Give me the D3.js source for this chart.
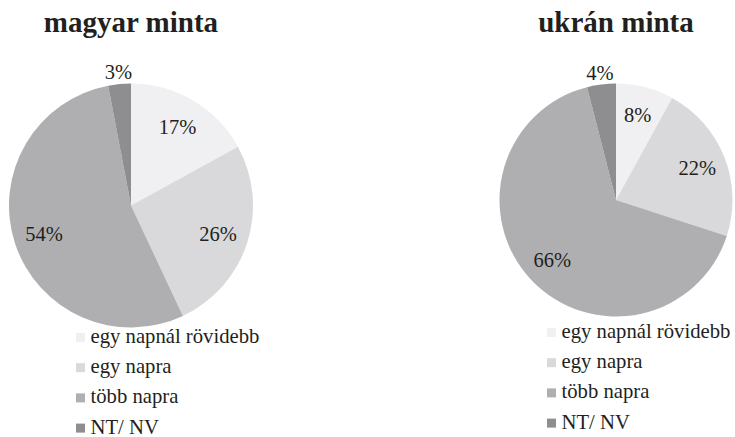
<!DOCTYPE html>
<html>
<head>
<meta charset="utf-8">
<script src="https://cdn.jsdelivr.net/npm/d3@7"></script>
<style>
  body { margin: 0; background: #fff; }
  text { font-family: "Liberation Serif", "Times New Roman", "DejaVu Serif", serif; fill: #231f20; }
</style>
</head>
<body>
<div id="chart"></div>
<script>
// data
var categories = ["egy napnál rövidebb", "egy napra", "több napra", "NT/ NV"];
var magyarValues = [17, 26, 54, 3];
var ukranValues = [8, 22, 66, 4];
var titles = ["magyar minta", "ukrán minta"];
var colors = ["#f0f0f2", "#d9d9db", "#afafb2", "#8e8e91"];

var width = 735, height = 437;

// layout for each pie
var panels = [
  { title: titles[0], values: magyarValues, cx: 131, cy: 205.5, r: 122, legX: 76, legY: 343 },
  { title: titles[1], values: ukranValues, cx: 616, cy: 200, r: 116.5, legX: 547, legY: 338 }
];

var svg = d3.select("#chart").append("svg")
    .attr("width", width)
    .attr("height", height);

var pie = d3.pie().sort(null).value(function(d) { return d; });
var color = d3.scaleOrdinal().domain(categories).range(colors);

panels.forEach(function(p) {
  var g = svg.append("g");

  g.append("text")
    .attr("x", p.cx)
    .attr("y", 32)
    .attr("text-anchor", "middle")
    .style("font-size", "29px")
    .style("font-weight", "bold")
    .text(p.title);

  var arcs = pie(p.values);
  var arc = d3.arc().innerRadius(0).outerRadius(p.r);

  var pg = g.append("g")
    .attr("transform", "translate(" + p.cx + "," + p.cy + ")");

  pg.selectAll("path")
    .data(arcs)
    .enter().append("path")
      .attr("d", arc)
      .attr("fill", function(d, i) { return color(categories[i]); });

  // small slice label goes outside
  pg.selectAll(".lbl")
    .data(arcs)
    .enter().append("text")
      .attr("class", "lbl")
      .attr("transform", function(d) {
        var rr = (d.endAngle - d.startAngle) < 0.3 ? p.r * 1.1 : p.r * 0.75;
        var la = d3.arc().innerRadius(rr).outerRadius(rr);
        return "translate(" + la.centroid(d) + ")";
      })
      .attr("dy", "0.33em")
      .attr("text-anchor", "middle")
      .style("font-size", "20.5px")
      .text(function(d) { return d.data + "%"; });

  // legend
  var step = 30.2;
  var leg = g.selectAll(".leg")
    .data(categories)
    .enter().append("g")
      .attr("transform", function(d, i) { return "translate(" + p.legX + "," + (p.legY + i * step) + ")"; });

  leg.append("rect")
    .attr("x", 0)
    .attr("y", -10)
    .attr("width", 9)
    .attr("height", 9)
    .attr("fill", function(d) { return color(d); });

  leg.append("text")
    .attr("x", 14.5)
    .attr("y", 0)
    .style("font-size", "20.7px")
    .text(function(d) { return d; });
});
</script>
</body>
</html>
